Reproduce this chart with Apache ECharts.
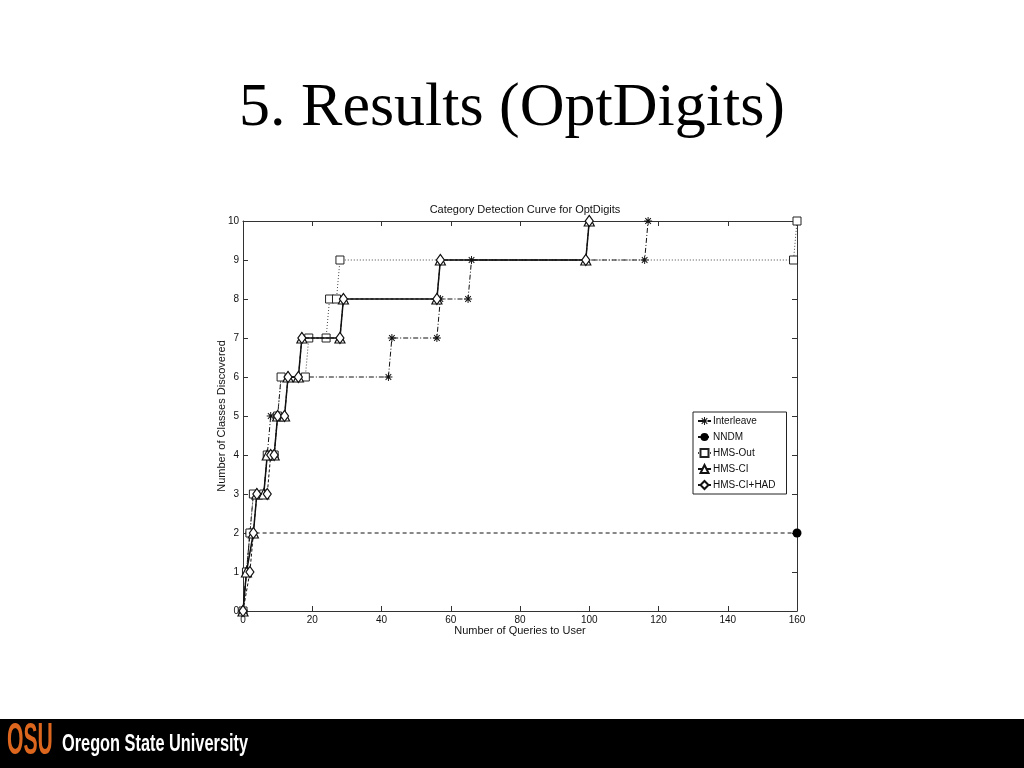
<!DOCTYPE html>
<html>
<head>
<meta charset="utf-8">
<script src="https://cdn.jsdelivr.net/npm/echarts@6/dist/echarts.min.js"></script>
<style>
html,body{margin:0;padding:0;background:#fff;}
#c{width:1024px;height:768px;}
</style>
</head>
<body>
<div id="c"></div>
<script>
// ---- data ----
var seriesNames = ['Interleave', 'NNDM', 'HMS-Out', 'HMS-CI', 'HMS-CI+HAD'];

var interleaveX = [0, 1, 2, 3, 6, 7, 8, 10, 11, 42, 43, 56, 57, 65, 66, 116, 117];
var interleaveY = [0, 1, 2, 3, 3, 4, 5, 5, 6, 6, 7, 7, 8, 8, 9, 9, 10];

var nndmX = [0, 1, 2, 160];
var nndmY = [0, 1, 2, 2];

var hmsOutX = [0, 1, 2, 3, 6, 7, 9, 10, 11, 18, 19, 24, 25, 27, 28, 159, 160];
var hmsOutY = [0, 1, 2, 3, 3, 4, 4, 5, 6, 6, 7, 7, 8, 8, 9, 9, 10];

var hmsCiX = [0, 1, 3, 4, 6, 7, 9, 10, 12, 13, 16, 17, 28, 29, 56, 57, 99, 100];
var hmsCiY = [0, 1, 2, 3, 3, 4, 4, 5, 5, 6, 6, 7, 7, 8, 8, 9, 9, 10];

var hadX = [0, 2, 3, 4, 7, 8, 9, 10, 12, 13, 16, 17, 28, 29, 56, 57, 99, 100];
var hadY = [0, 1, 2, 3, 3, 4, 4, 5, 5, 6, 6, 7, 7, 8, 8, 9, 9, 10];

var xTicks = [0, 20, 40, 60, 80, 100, 120, 140, 160];
var yTicks = [0, 1, 2, 3, 4, 5, 6, 7, 8, 9, 10];

var slideTitle = '5. Results (OptDigits)';
var chartTitle = 'Category Detection Curve for OptDigits';
var xName = 'Number of Queries to User';
var yName = 'Number of Classes Discovered';

// ---- helpers ----
function pairs(xs, ys) { return xs.map(function (x, i) { return [x, ys[i]]; }); }

var asterisk = 'path://M0 4.4H10V5.6H0Z M4.4 0H5.6V10H4.4Z M1.92 1.08L8.92 8.08L8.08 8.92L1.08 1.92Z M8.08 1.08L8.92 1.92L1.92 8.92L1.08 8.08Z';

var AX = '#333';
var font = 'Liberation Sans, Arial, sans-serif';

var chart = echarts.init(document.getElementById('c'), null, {renderer: 'canvas'});

var option = {
  backgroundColor: '#fff',
  animation: false,
  title: {
    text: chartTitle,
    left: 520, top: 199, textAlign: 'center',
    textStyle: {fontFamily: font, fontSize: 11, fontWeight: 'normal', color: '#111'}
  },
  legend: {
    orient: 'vertical',
    left: 693, top: 412,
    backgroundColor: '#fff',
    borderColor: '#222', borderWidth: 1,
    padding: [4, 11, 4, 4],
    itemWidth: 13, itemHeight: 10, itemGap: 6,
    textStyle: {fontFamily: font, fontSize: 10, color: '#111', padding: [0, 0, 0, -3]},
    data: seriesNames
  },
  grid: {left: 243, right: 227, top: 221, bottom: 157, containLabel: false},
  xAxis: [{
    type: 'value', min: 0, max: 160, interval: 20, position: 'bottom',
    name: xName, nameLocation: 'middle', nameGap: 14, nameMoveOverlap: false,
    nameTextStyle: {fontFamily: font, fontSize: 11, color: '#111'},
    axisLine: {show: true, onZero: false, lineStyle: {color: AX, width: 1}},
    axisTick: {show: true, inside: true, length: 5, lineStyle: {color: AX}},
    axisLabel: {fontFamily: font, fontSize: 10, color: '#111', margin: 4,
      formatter: function (v) { return xTicks.indexOf(v) >= 0 ? String(v) : ''; }},
    splitLine: {show: false}
  }, {
    type: 'value', min: 0, max: 160, interval: 20, position: 'top',
    axisLine: {show: true, onZero: false, lineStyle: {color: AX, width: 1}},
    axisTick: {show: true, inside: true, length: 5, lineStyle: {color: AX}},
    axisLabel: {show: false}, splitLine: {show: false}
  }],
  yAxis: [{
    type: 'value', min: 0, max: 10, interval: 1, position: 'left',
    name: yName, nameLocation: 'middle', nameGap: 16, nameMoveOverlap: false,
    nameTextStyle: {fontFamily: font, fontSize: 11, color: '#111'},
    axisLine: {show: true, onZero: false, lineStyle: {color: AX, width: 1}},
    axisTick: {show: true, inside: true, length: 5, lineStyle: {color: AX}},
    axisLabel: {fontFamily: font, fontSize: 10, color: '#111', margin: 4,
      formatter: function (v) { return yTicks.indexOf(v) >= 0 ? String(v) : ''; }},
    splitLine: {show: false}
  }, {
    type: 'value', min: 0, max: 10, interval: 1, position: 'right',
    axisLine: {show: true, onZero: false, lineStyle: {color: AX, width: 1}},
    axisTick: {show: true, inside: true, length: 5, lineStyle: {color: AX}},
    axisLabel: {show: false}, splitLine: {show: false}
  }],
  series: [{
    name: 'Interleave', type: 'line', data: pairs(interleaveX, interleaveY),
    symbol: asterisk, symbolSize: 8, showAllSymbol: true,
    lineStyle: {color: '#111', width: 1, type: [5, 2, 1, 2]},
    itemStyle: {color: '#111', borderWidth: 0}, z: 2
  }, {
    name: 'NNDM', type: 'line', data: pairs(nndmX, nndmY),
    symbol: 'circle', symbolSize: 9,
    lineStyle: {color: '#111', width: 1, type: [4, 3]},
    itemStyle: {color: '#000', borderWidth: 0}, z: 3
  }, {
    name: 'HMS-Out', type: 'line', data: pairs(hmsOutX, hmsOutY),
    symbol: 'rect', symbolSize: 8,
    lineStyle: {color: '#444', width: 1, type: [1, 2]},
    itemStyle: {color: '#fff', borderColor: '#222', borderWidth: 1}, z: 4
  }, {
    name: 'HMS-CI', type: 'line', data: pairs(hmsCiX, hmsCiY),
    symbol: 'triangle', symbolSize: 10,
    lineStyle: {color: '#111', width: 1.5, type: 'solid'},
    itemStyle: {color: '#fff', borderColor: '#111', borderWidth: 1.2}, z: 5
  }, {
    name: 'HMS-CI+HAD', type: 'line', data: pairs(hadX, hadY),
    symbol: 'diamond', symbolSize: [8, 11],
    lineStyle: {color: '#111', width: 1, type: [3, 2]},
    itemStyle: {color: '#fff', borderColor: '#111', borderWidth: 1.2}, z: 6
  }],
  graphic: [{
    type: 'text', left: 'center', top: 78,
    style: {text: slideTitle, fontFamily: 'Liberation Serif, Times New Roman, serif',
      fontSize: 62, fill: '#000'}
  }, {
    type: 'rect', left: 0, top: 719, shape: {width: 1024, height: 49},
    style: {fill: '#000'}
  }, {
    type: 'text', x: 7, y: 720, scaleX: 0.48,
    style: {text: 'OSU', fontFamily: 'Liberation Sans, Arial', fontWeight: 'bold',
      fontSize: 44, fill: '#DC661E', textVerticalAlign: 'top'}
  }, {
    type: 'text', x: 62, y: 733, scaleX: 0.71,
    style: {text: 'Oregon State University', fontFamily: 'Liberation Sans, Arial', fontWeight: 'bold',
      fontSize: 23, fill: '#fff', textVerticalAlign: 'top'}
  }]
};
chart.setOption(option);
</script>
</body>
</html>
